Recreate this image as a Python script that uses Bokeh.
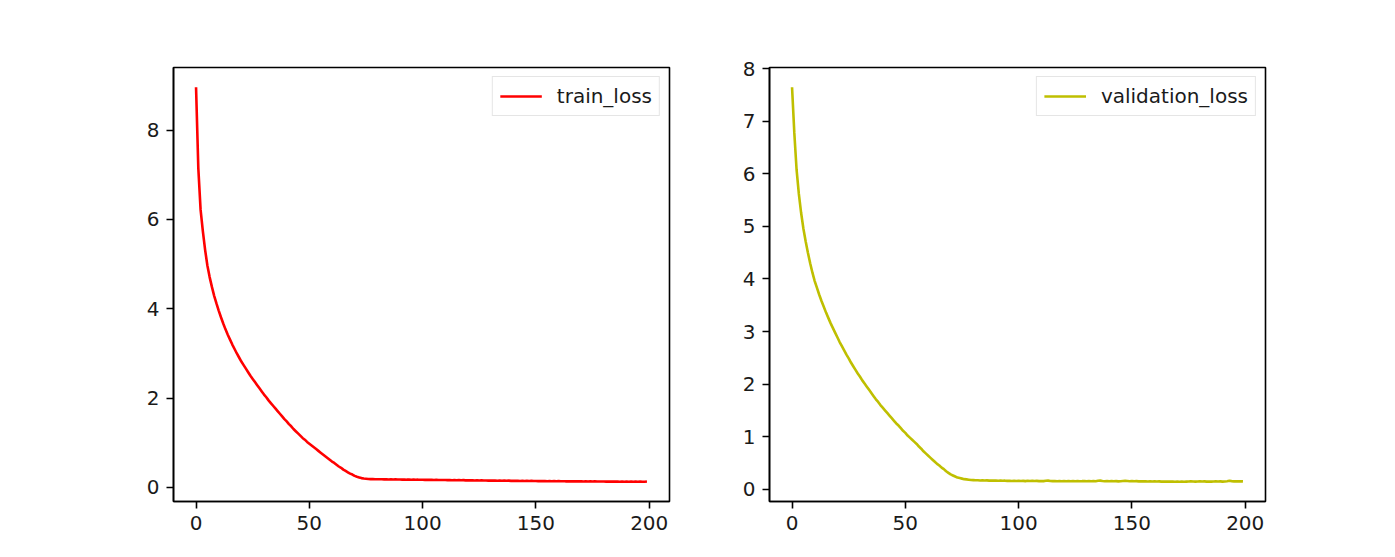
from bokeh.plotting import figure
from bokeh.layouts import row
from bokeh.models import Range1d, FixedTicker, Legend, LegendItem
from bokeh.embed import file_html
from bokeh.resources import INLINE

epochs = list(range(200))

train_loss = [
    8.96, 7.15, 6.22, 5.74, 5.32, 4.97, 4.71, 4.49, 4.29, 4.12,
    3.96, 3.81, 3.67, 3.54, 3.42, 3.31, 3.20, 3.10, 3.00, 2.91,
    2.82, 2.74, 2.66, 2.58, 2.50, 2.43, 2.36, 2.29, 2.22, 2.15,
    2.08, 2.02, 1.95, 1.89, 1.83, 1.77, 1.71, 1.65, 1.59, 1.53,
    1.48, 1.42, 1.37, 1.31, 1.26, 1.21, 1.16, 1.11, 1.07, 1.02,
    0.98, 0.94, 0.90, 0.86, 0.82, 0.78, 0.74, 0.70, 0.66, 0.62,
    0.58, 0.55, 0.51, 0.47, 0.44, 0.40, 0.37, 0.34, 0.31, 0.29,
    0.26, 0.24, 0.225, 0.21, 0.20, 0.195, 0.19, 0.188, 0.19, 0.185,
    0.186, 0.183, 0.185, 0.181, 0.184, 0.180, 0.182, 0.179, 0.181, 0.178,
    0.180, 0.176, 0.179, 0.175, 0.177, 0.174, 0.176, 0.173, 0.175, 0.172,
    0.174, 0.171, 0.173, 0.170, 0.172, 0.168, 0.171, 0.167, 0.169, 0.166,
    0.168, 0.165, 0.167, 0.163, 0.166, 0.162, 0.165, 0.161, 0.164, 0.160,
    0.162, 0.159, 0.161, 0.157, 0.160, 0.156, 0.159, 0.155, 0.158, 0.154,
    0.157, 0.153, 0.156, 0.152, 0.155, 0.151, 0.154, 0.150, 0.153, 0.149,
    0.152, 0.148, 0.151, 0.147, 0.150, 0.146, 0.149, 0.145, 0.148, 0.144,
    0.147, 0.143, 0.146, 0.142, 0.145, 0.141, 0.144, 0.140, 0.143, 0.140,
    0.142, 0.139, 0.141, 0.138, 0.140, 0.137, 0.140, 0.136, 0.139, 0.136,
    0.138, 0.135, 0.137, 0.134, 0.137, 0.134, 0.136, 0.133, 0.135, 0.133,
    0.135, 0.132, 0.134, 0.131, 0.134, 0.131, 0.133, 0.130, 0.133, 0.130,
    0.132, 0.130, 0.132, 0.129, 0.131, 0.129, 0.131, 0.128, 0.130, 0.135,
]

validation_loss = [
    7.65, 6.78, 6.08, 5.62, 5.26, 4.96, 4.72, 4.50, 4.30, 4.12,
    3.96, 3.83, 3.70, 3.58, 3.47, 3.36, 3.26, 3.16, 3.07, 2.98,
    2.89, 2.80, 2.72, 2.64, 2.56, 2.49, 2.41, 2.34, 2.27, 2.20,
    2.14, 2.07, 2.01, 1.95, 1.89, 1.83, 1.77, 1.71, 1.66, 1.60,
    1.55, 1.50, 1.45, 1.40, 1.35, 1.30, 1.25, 1.21, 1.16, 1.11,
    1.07, 1.02, 0.98, 0.94, 0.90, 0.86, 0.81, 0.77, 0.72, 0.68,
    0.64, 0.60, 0.56, 0.52, 0.48, 0.45, 0.41, 0.38, 0.34, 0.31,
    0.28, 0.26, 0.24, 0.22, 0.21, 0.20, 0.19, 0.185, 0.18, 0.175,
    0.172, 0.168, 0.170, 0.165, 0.167, 0.163, 0.166, 0.162, 0.164, 0.161,
    0.163, 0.160, 0.162, 0.158, 0.161, 0.157, 0.160, 0.156, 0.159, 0.155,
    0.158, 0.154, 0.157, 0.153, 0.158, 0.155, 0.160, 0.154, 0.157, 0.153,
    0.156, 0.152, 0.158, 0.162, 0.156, 0.152, 0.155, 0.151, 0.154, 0.150,
    0.153, 0.150, 0.155, 0.151, 0.154, 0.150, 0.153, 0.149, 0.152, 0.156,
    0.151, 0.154, 0.150, 0.153, 0.149, 0.158, 0.162, 0.155, 0.151, 0.154,
    0.150, 0.153, 0.149, 0.152, 0.148, 0.151, 0.155, 0.158, 0.154, 0.150,
    0.153, 0.149, 0.152, 0.148, 0.151, 0.147, 0.150, 0.146, 0.149, 0.145,
    0.148, 0.144, 0.147, 0.143, 0.146, 0.143, 0.145, 0.142, 0.144, 0.141,
    0.144, 0.141, 0.143, 0.140, 0.143, 0.146, 0.149, 0.145, 0.142, 0.145,
    0.148, 0.144, 0.147, 0.143, 0.146, 0.142, 0.145, 0.148, 0.144, 0.147,
    0.143, 0.146, 0.150, 0.158, 0.152, 0.148, 0.151, 0.147, 0.150, 0.148,
]

x_ticks = [0, 50, 100, 150, 200]
train_y_ticks = [0, 2, 4, 6, 8]
val_y_ticks = [0, 1, 2, 3, 4, 5, 6, 7, 8]

FONT = "DejaVu Sans"


def padded(vals, frac=0.05):
    lo, hi = min(vals), max(vals)
    span = hi - lo
    return lo - frac * span, hi + frac * span


def make_panel(xs, ys, color, label, yticks, width, bl, br):
    xlo, xhi = padded(xs)
    ylo, yhi = padded(ys)
    p = figure(width=width, height=549, output_backend="svg",
               toolbar_location=None, tools="",
               x_range=Range1d(xlo, xhi), y_range=Range1d(ylo, yhi),
               min_border_left=bl, min_border_right=br,
               min_border_top=67, min_border_bottom=48)
    p.grid.visible = False
    p.outline_line_color = "black"
    p.outline_line_width = 1.6
    p.outline_line_alpha = 1.0
    p.background_fill_color = "white"
    p.border_fill_color = "white"
    for ax in (p.xaxis[0], p.yaxis[0]):
        ax.axis_line_color = "black"
        ax.axis_line_width = 1.6
        ax.major_tick_line_color = "black"
        ax.major_tick_line_width = 1.6
        ax.major_tick_out = 7
        ax.major_tick_in = 0
        ax.minor_tick_line_color = None
        ax.major_label_text_font = FONT
        ax.major_label_text_font_size = "20px"
        ax.major_label_text_color = "#1a1a1a"
        ax.major_label_standoff = 7
    p.xaxis.ticker = FixedTicker(ticks=x_ticks)
    p.yaxis.ticker = FixedTicker(ticks=yticks)
    r = p.line(xs, ys, line_color=color, line_width=2.6)
    legend = Legend(items=[LegendItem(label=label, renderers=[r])],
                    location="top_right")
    legend.margin = 9
    legend.padding = 7
    legend.glyph_width = 42
    legend.glyph_height = 20
    legend.label_height = 20
    legend.label_standoff = 15
    legend.label_text_font = FONT
    legend.label_text_font_size = "20px"
    legend.label_text_color = "#1a1a1a"
    legend.border_line_color = "#cccccc"
    legend.border_line_width = 1.5
    legend.background_fill_color = "white"
    legend.background_fill_alpha = 0.8
    p.add_layout(legend)
    return p


p1 = make_panel(epochs, train_loss, "#ff0000", "train_loss", train_y_ticks, 720, 173, 51)
p2 = make_panel(epochs, validation_loss, "#bfbf00", "validation_loss", val_y_ticks, 667, 49, 122)

layout = row(p1, p2)
open("out.html", "w").write(file_html(layout, INLINE))
